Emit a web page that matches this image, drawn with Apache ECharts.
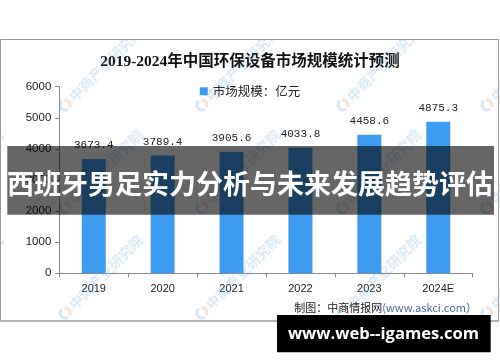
<!DOCTYPE html>
<html>
<head>
<meta charset="utf-8">
<script src="https://cdn.jsdelivr.net/npm/echarts@6/dist/echarts.min.js"></script>
<style>
html,body{margin:0;padding:0;background:#fff;}
#chart{width:500px;height:362px;}
</style>
</head>
<body>
<div id="chart"></div>
<script>
const categories = ['2019', '2020', '2021', '2022', '2023', '2024E'];
const marketSize = [3673.4, 3789.4, 3905.6, 4033.8, 4458.6, 4875.3];
const yMin = 0, yMax = 6000, yInterval = 1000;
const titleText = '2019-2024年中国环保设备市场规模统计预测';
const seriesName = '市场规模：亿元';
const overlayText = '西班牙男足实力分析与未来发展趋势评估';
const siteText = 'www.web--igames.com';

const chart = echarts.init(document.getElementById('chart'), null, {renderer: 'canvas'});

const wmCols = [-75, 65, 202, 343, 487];
const wmRows = [105, 208, 313];
const watermarks = [];
wmRows.forEach(function (wy) {
  wmCols.forEach(function (wx) {
    watermarks.push({
      type: 'arc', silent: true, z: 50,
      shape: {cx: wx, cy: wy, r: 5, startAngle: Math.PI * 0.3, endAngle: Math.PI * 1.3},
      style: {stroke: 'rgba(90,160,220,0.25)', fill: null, lineWidth: 3}
    });
    watermarks.push({
      type: 'arc', silent: true, z: 50,
      shape: {cx: wx, cy: wy, r: 5, startAngle: Math.PI * 1.45, endAngle: Math.PI * 2.15},
      style: {stroke: 'rgba(240,130,90,0.25)', fill: null, lineWidth: 3}
    });
    watermarks.push({
      type: 'text', silent: true, z: 50,
      x: wx, y: wy, rotation: Math.PI / 4,
      style: {
        text: '中商产业研究院', x: 9, y: 0,
        fill: 'rgba(90,160,220,0.22)',
        font: 'bold 14px "Noto Sans CJK SC"',
        textAlign: 'left', textVerticalAlign: 'middle'
      }
    });
  });
});

const option = {
  backgroundColor: '#fff',
  animation: false,
  title: {
    text: titleText,
    left: 'center',
    top: 49,
    textStyle: {
      fontFamily: '"Liberation Serif", "Noto Sans CJK SC"',
      fontSize: 15.5, fontWeight: 'bold', color: '#111'
    }
  },
  legend: {
    top: 80,
    left: 'center',
    icon: 'rect',
    itemWidth: 8, itemHeight: 8,
    textStyle: {fontFamily: '"Noto Sans CJK SC"', fontSize: 12.5, color: '#222'},
    data: [seriesName]
  },
  grid: {left: 59.3, right: 27.3, top: 86.7, bottom: 88.7},
  xAxis: {
    type: 'category',
    data: categories,
    axisLine: {lineStyle: {color: '#888', width: 1}},
    axisTick: {show: true, length: 4, lineStyle: {color: '#888'}},
    axisLabel: {margin: 10, fontFamily: '"Liberation Sans"', fontSize: 11, color: '#222'}
  },
  yAxis: {
    type: 'value',
    min: yMin, max: yMax, interval: yInterval,
    axisLine: {show: true, lineStyle: {color: '#888', width: 1}},
    axisTick: {show: true, length: 4, lineStyle: {color: '#888'}},
    splitLine: {show: false},
    axisLabel: {margin: 8, fontFamily: '"Liberation Sans"', fontSize: 11.5, color: '#222',
                formatter: function (v) { return String(v); }}
  },
  series: [{
    name: seriesName,
    type: 'bar',
    data: marketSize,
    barWidth: 24,
    itemStyle: {color: '#3d9cf0'},
    label: {
      show: true, position: 'top', distance: 8,
      fontFamily: '"Liberation Mono"', fontSize: 11, color: '#222',
      formatter: function (p) { return p.value.toFixed(1); }
    }
  }],
  graphic: [
    {type: 'rect', silent: true, z: -10, shape: {x: 0.5, y: 39.5, width: 498, height: 281.5},
     style: {fill: null, stroke: '#999', lineWidth: 1}}
  ].concat(watermarks).concat([
    {type: 'rect', silent: true, z: 60, shape: {x: 0, y: 0, width: 500, height: 39}, style: {fill: '#fff'}},
    {type: 'rect', silent: true, z: 60, shape: {x: 0, y: 322, width: 500, height: 40}, style: {fill: '#fff'}},
    {type: 'rect', silent: true, z: 60, shape: {x: 499.5, y: 0, width: 10, height: 362}, style: {fill: '#fff'}},
    {type: 'rect', silent: true, z: 61, shape: {x: 0.5, y: 39.5, width: 498, height: 281.5},
     style: {fill: null, stroke: '#999', lineWidth: 1}},
    {type: 'text', silent: true, z: 62, x: 477, y: 308,
     style: {
       text: '{a|制图：中商情报网}{b|(www.askci.com）}',
       textAlign: 'right', textVerticalAlign: 'middle',
       font: '11px "Noto Sans CJK SC"',
       rich: {
         a: {fill: '#222', fontSize: 11, fontFamily: '"Noto Sans CJK SC"'},
         b: {fill: '#4a6a9a', fontSize: 11, fontFamily: '"Noto Sans CJK SC"'}
       }
     }},
    {type: 'rect', silent: true, z: 70, shape: {x: 7.3, y: 146, width: 486.7, height: 68.7},
     style: {fill: 'rgba(0,0,0,0.6)'}},
    {type: 'text', silent: true, z: 71, x: 250, y: 184,
     style: {text: overlayText, fill: '#fff', font: 'bold 27px "Noto Sans CJK SC"',
             textAlign: 'center', textVerticalAlign: 'middle'}},
    {type: 'rect', silent: true, z: 70, shape: {x: 277, y: 315, width: 213.7, height: 37.3},
     style: {fill: '#000'}},
    {type: 'text', silent: true, z: 71, x: 383.5, y: 334,
     style: {text: siteText, fill: '#fff', font: 'bold 16.6px "Open Sans"',
             textAlign: 'center', textVerticalAlign: 'middle'}}
  ])
};
chart.setOption(option);
</script>
</body>
</html>
